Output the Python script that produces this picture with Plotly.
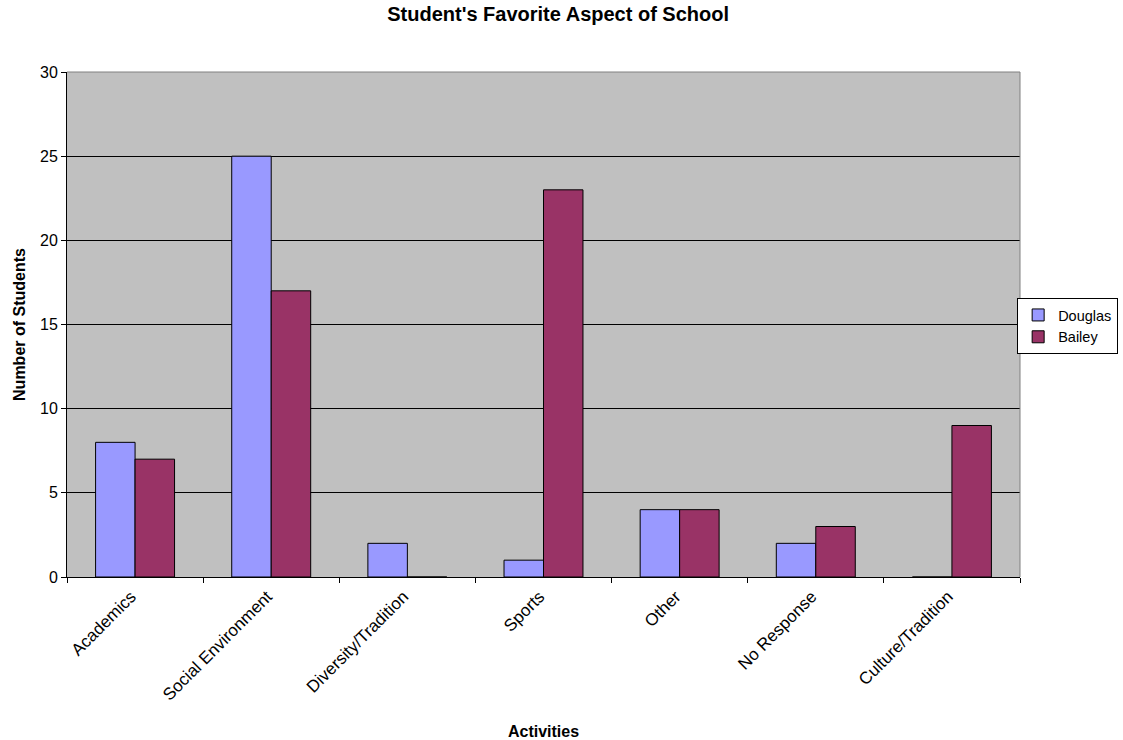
import plotly.graph_objects as go

# Survey results: favourite aspect of school, by campus
activities = ["Academics", "Social Environment", "Diversity/Tradition", "Sports",
              "Other", "No Response", "Culture/Tradition"]
douglas = [8, 25, 2, 1, 4, 2, 0]
bailey = [7, 17, 0, 23, 4, 3, 9]

FONT = "Liberation Sans, Arial, sans-serif"
FS = 16

fig = go.Figure()
fig.add_trace(go.Bar(name="Douglas", x=activities, y=douglas,
                     marker=dict(color="#9999FF", line=dict(color="black", width=1))))
fig.add_trace(go.Bar(name="Bailey", x=activities, y=bailey,
                     marker=dict(color="#993366", line=dict(color="black", width=1))))

fig.update_layout(
    width=1123, height=740,
    margin=dict(l=67, r=103, t=72, b=163, autoexpand=False),
    paper_bgcolor="white",
    plot_bgcolor="#C0C0C0",
    barmode="group",
    bargap=0.42,
    bargroupgap=0,
    font=dict(family=FONT, size=FS, color="black"),
    title=dict(text="<b>Student's Favorite Aspect of School</b>",
               x=0.497, xref="container", y=1 - 14 / 740, yanchor="middle",
               font=dict(family=FONT, size=20, color="black")),
    legend=dict(x=0.997, y=0.497, xanchor="left", yanchor="middle",
                bgcolor="white", bordercolor="black", borderwidth=1,
                font=dict(family=FONT, size=14.5, color="black"),
                itemwidth=30, tracegroupgap=0),
    showlegend=True,
)

fig.update_xaxes(
    type="category",
    tickangle=-45,
    tickson="boundaries",
    ticks="outside", ticklen=5, tickcolor="black",
    showline=True, linecolor="black", linewidth=1,
    showgrid=False,
    automargin=False,
    ticklabelshift=-4,
    ticklabelstandoff=2,
    tickfont=dict(family=FONT, size=17, color="black"),
    title=dict(text="<b>Activities</b>", standoff=26,
               font=dict(family=FONT, size=FS, color="black")),
)
fig.update_yaxes(
    range=[0, 30], dtick=5,
    ticks="outside", ticklen=5, tickcolor="black",
    showline=True, linecolor="black", linewidth=1,
    showgrid=True, gridcolor="black", gridwidth=1,
    zeroline=False,
    automargin=False,
    tickfont=dict(family=FONT, size=FS, color="black"),
    title=dict(text="<b>Number of Students</b>", standoff=10,
               font=dict(family=FONT, size=FS, color="black")),
)

# Gray frame along the top and right edges of the plot area
fig.add_shape(type="line", xref="paper", yref="paper", x0=0, x1=1, y0=1, y1=1,
              line=dict(color="#808080", width=1))
fig.add_shape(type="line", xref="paper", yref="paper", x0=1, x1=1, y0=0, y1=1,
              line=dict(color="#808080", width=1))

fig.write_html("out.html")
